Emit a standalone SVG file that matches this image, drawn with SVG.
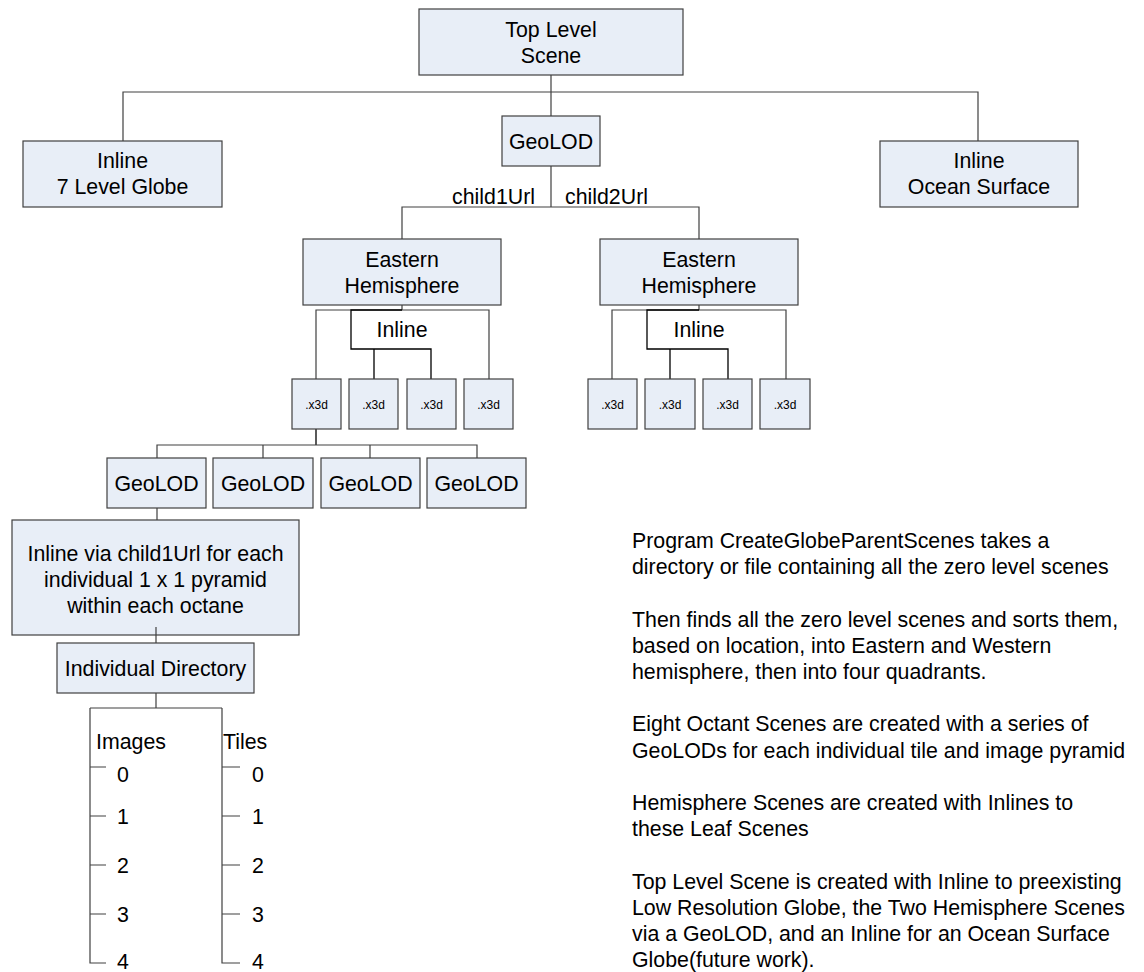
<svg xmlns="http://www.w3.org/2000/svg" width="1144" height="972" viewBox="0 0 1144 972">
<style>
.box{fill:#E8EEF7;stroke:#404040;stroke-width:1.2}
.ln{fill:none;stroke:#404040;stroke-width:1.2}
.dk{fill:none;stroke:#000;stroke-width:1.3}
text{font-family:"Liberation Sans",Arial,sans-serif;font-size:21.33px;fill:#000}
.c{text-anchor:middle}
.s{font-size:12px}
</style>
<rect width="1144" height="972" fill="#fff"/>
<g id="connectors">
<path class="ln" d="M123,141 V92 H978 V141 M551,75 V116 M551,166 V207 M402,240 V207 H699 V240"/>
<path class="ln" d="M402,305 V310 M316,379 V310 H489 V379"/>
<path class="dk" d="M402,310 H351 V349 H431 V379 M374,349 V379"/>
<path class="ln" d="M699,305 V310 M612,379 V310 H786 V379"/>
<path class="dk" d="M699,310 H647 V349 H728 V379 M670,349 V379"/>
<path class="dk" d="M316,429 V445"/>
<path class="ln" d="M157,458 V445 H477 V458 M263,445 V458 M370,445 V458"/>
<path class="ln" d="M157,508 V520 M156,627 V643 M156,693 V708 M90,708 H222 M90,708 V963 H106 M90,767 H106 M90,816 H106 M90,865 H106 M90,914 H106 M222,708 V963 H240 M222,767 H240 M222,816 H240 M222,865 H240 M222,914 H240"/>
</g>
<g id="top"><rect class="box" x="419" y="9" width="264" height="66"/><text class="c" x="551" y="37">Top Level</text><text class="c" x="551" y="63">Scene</text></g>
<g id="inline-globe"><rect class="box" x="23" y="141" width="199" height="66"/><text class="c" x="122.5" y="168">Inline</text><text class="c" x="122.5" y="194">7 Level Globe</text></g>
<g id="geolod-top"><rect class="box" x="502" y="116" width="98" height="50"/><text class="c" x="551" y="148.6">GeoLOD</text></g>
<g id="inline-ocean"><rect class="box" x="880" y="141" width="198" height="66"/><text class="c" x="979" y="168">Inline</text><text class="c" x="979" y="194">Ocean Surface</text></g>
<g id="labels-child"><text x="535" y="204" text-anchor="end">child1Url</text><text x="565" y="204">child2Url</text></g>
<g id="eh-left"><rect class="box" x="303" y="239" width="198" height="66"/><text class="c" x="402" y="267">Eastern</text><text class="c" x="402" y="293">Hemisphere</text></g>
<g id="eh-right"><rect class="box" x="600" y="239" width="198" height="66"/><text class="c" x="699" y="267">Eastern</text><text class="c" x="699" y="293">Hemisphere</text></g>
<g id="inline-labels"><text class="c" x="402" y="337">Inline</text><text class="c" x="699" y="337">Inline</text></g>
<g id="x3d-l1"><rect class="box" x="292" y="379" width="49" height="50"/><text class="c s" x="316.5" y="408.5">.x3d</text></g>
<g id="x3d-l2"><rect class="box" x="349" y="379" width="49" height="50"/><text class="c s" x="373.5" y="408.5">.x3d</text></g>
<g id="x3d-l3"><rect class="box" x="407" y="379" width="49" height="50"/><text class="c s" x="431.5" y="408.5">.x3d</text></g>
<g id="x3d-l4"><rect class="box" x="464" y="379" width="49" height="50"/><text class="c s" x="488.5" y="408.5">.x3d</text></g>
<g id="x3d-r1"><rect class="box" x="588" y="379" width="49" height="50"/><text class="c s" x="612.5" y="408.5">.x3d</text></g>
<g id="x3d-r2"><rect class="box" x="645" y="379" width="50" height="50"/><text class="c s" x="670" y="408.5">.x3d</text></g>
<g id="x3d-r3"><rect class="box" x="703" y="379" width="49" height="50"/><text class="c s" x="727.5" y="408.5">.x3d</text></g>
<g id="x3d-r4"><rect class="box" x="760" y="379" width="50" height="50"/><text class="c s" x="785" y="408.5">.x3d</text></g>
<g id="geolod-1"><rect class="box" x="107" y="458" width="99" height="50"/><text class="c" x="156.5" y="490.6">GeoLOD</text></g>
<g id="geolod-2"><rect class="box" x="213" y="458" width="100" height="50"/><text class="c" x="263" y="490.6">GeoLOD</text></g>
<g id="geolod-3"><rect class="box" x="321" y="458" width="99" height="50"/><text class="c" x="370.5" y="490.6">GeoLOD</text></g>
<g id="geolod-4"><rect class="box" x="427" y="458" width="99" height="50"/><text class="c" x="476.5" y="490.6">GeoLOD</text></g>
<g id="inline-child"><rect class="box" x="12" y="520" width="287" height="115"/><text class="c" x="155.5" y="561">Inline via child1Url for each</text><text class="c" x="155.5" y="587">individual 1 x 1 pyramid</text><text class="c" x="155.5" y="613">within each octane</text></g>
<path class="ln" d="M156,627 V635"/>
<g id="individual-dir"><rect class="box" x="57" y="643" width="197" height="50"/><text class="c" x="155.5" y="675.6">Individual Directory</text></g>
<g id="images"><text x="96" y="749">Images</text><text x="117" y="782">0</text><text x="117" y="823.6">1</text><text x="117" y="872.6">2</text><text x="117" y="921.6">3</text><text x="117" y="969">4</text></g>
<g id="tiles"><text x="223" y="749">Tiles</text><text x="252" y="782">0</text><text x="252" y="823.6">1</text><text x="252" y="872.6">2</text><text x="252" y="921.6">3</text><text x="252" y="969">4</text></g>
<g id="notes">
<text x="632" y="548">Program CreateGlobeParentScenes takes a</text>
<text x="632" y="574.2">directory or file containing all the zero level scenes</text>
<text x="632" y="626.6">Then finds all the zero level scenes and sorts them,</text>
<text x="632" y="652.8">based on location, into Eastern and Western</text>
<text x="632" y="679">hemisphere, then into four quadrants.</text>
<text x="632" y="731.4">Eight Octant Scenes are created with a series of</text>
<text x="632" y="757.6">GeoLODs for each individual tile and image pyramid</text>
<text x="632" y="810">Hemisphere Scenes are created with Inlines to</text>
<text x="632" y="836.2">these Leaf Scenes</text>
<text x="632" y="888.6">Top Level Scene is created with Inline to preexisting</text>
<text x="632" y="914.8">Low Resolution Globe, the Two Hemisphere Scenes</text>
<text x="632" y="941">via a GeoLOD, and an Inline for an Ocean Surface</text>
<text x="632" y="967.2">Globe(future work).</text>
</g>
</svg>
